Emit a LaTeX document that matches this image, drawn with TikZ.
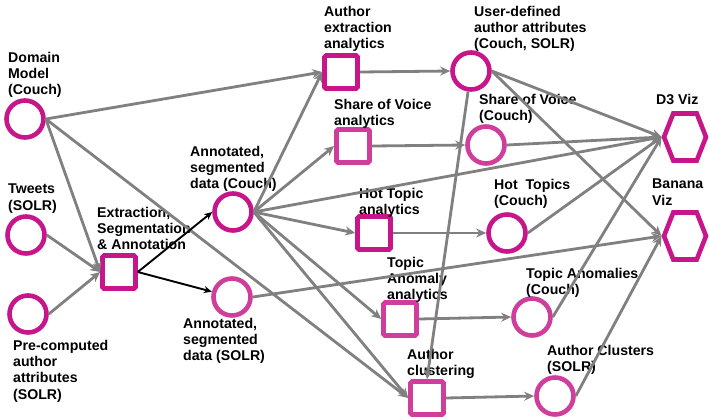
\documentclass[tikz,border=0pt]{standalone}
\usepackage{fontspec}
\setmainfont{Liberation Sans}
\usepackage{tikz}
\usetikzlibrary{arrows.meta, shapes.symbols}
\definecolor{vio}{RGB}{199,22,138}
\definecolor{violt}{RGB}{208,62,155}
\definecolor{flow}{RGB}{128,128,128}
\newcommand{\lbl}{\fontsize{14.2}{16.3}\selectfont\bfseries}
\tikzset{
  store/.style  = {circle, draw=vio, line width=4.6bp, minimum size=37bp, inner sep=0pt},
  lstore/.style = {store, draw=violt},
  proc/.style   = {rectangle, draw=vio, line width=4.6bp, minimum size=33bp,
                   rounded corners=1.5bp, inner sep=0pt},
  lproc/.style  = {proc, draw=violt},
  viz/.style    = {signal, signal to=east and west, signal pointer angle=137,
                   draw=vio, line width=4.6bp, minimum width=42bp, minimum height=47bp,
                   inner sep=0pt},
  sig/.style    = {-{Stealth[length=10bp, width=9bp]}, draw=flow, line width=2.8bp},
  bsig/.style   = {-{Stealth[length=8bp, width=7bp]}, draw=black, line width=1.9bp},
  lab/.style    = {font=\lbl, align=left, anchor=north west, inner sep=0pt},
}

\begin{document}
\begin{tikzpicture}[x=1bp, y=-1bp]
  \useasboundingbox (0,0) rectangle (710,418);
  % data stores and steps
  \node[store] (dm) at (25,119) {};
  \node[store] (tw) at (26,235) {};
  \node[store] (pre) at (28,314) {};
  \node[proc] (ext) at (119,272) {};
  \node[store] (ac) at (233,212) {};
  \node[lstore] (as) at (232,297) {};
  \node[proc] (ae) at (341,72) {};
  \node[lproc] (sva) at (353,146) {};
  \node[store] (ud) at (471,71) {};
  \node[lstore] (svc) at (486,145) {};
  \node[proc] (hta) at (374,233) {};
  \node[store] (htc) at (507,233) {};
  \node[lproc] (taa) at (400,319) {};
  \node[lstore] (tac) at (532,317) {};
  \node[lproc] (acl) at (427,398) {};
  \node[lstore] (acs) at (555,396) {};
  \node[viz] (d3) at (685,137) {};
  \node[viz] (ban) at (685,236) {};

  % labels
  \node[lab] (dm-t) at (8,52) {Domain\\Model\\(Couch)};
  \node[lab] (tw-t) at (8,184) {Tweets\\(SOLR)};
  \node[lab] (pre-t) at (13,340) {Pre-computed\\author\\attributes\\(SOLR)};
  \node[lab] (ext-t) at (97,207) {Extraction,\\Segmentation\\\& Annotation};
  \node[lab] (ac-t) at (190,146) {Annotated,\\segmented\\data (Couch)};
  \node[lab] (as-t) at (183,318) {Annotated,\\segmented\\data (SOLR)};
  \node[lab] (ae-t) at (324,6) {Author\\extraction\\analytics};
  \node[lab] (sva-t) at (334,99) {Share of Voice\\analytics};
  \node[lab] (ud-t) at (474,6) {User-defined\\author attributes\\(Couch, SOLR)};
  \node[lab] (svc-t) at (479,94) {Share of Voice\\(Couch)};
  \node[lab] (d3-t) at (656,94) {D3 Viz};
  \node[lab] (htc-t) at (494,179) {Hot\ \ Topics\\(Couch)};
  \node[lab] (ban-t) at (652,179) {Banana\\Viz};
  \node[lab] (hta-t) at (359,188) {Hot Topic\\analytics};
  \node[lab] (taa-t) at (387,257) {Topic\\Anomaly\\analytics};
  \node[lab] (tac-t) at (526,268) {Topic Anomalies\\(Couch)};
  \node[lab] (acl-t) at (407,349) {Author\\clustering};
  \node[lab] (acs-t) at (547,345) {Author Clusters\\(SOLR)};

  % flows
  \draw[sig] (dm.east) -- (ae.west);
  \draw[sig] (dm.east) -- (ext.west);
  \draw[sig] (dm.east) -- (acl.west);
  \draw[sig] (tw.east) -- (ext.west);
  \draw[sig] (pre.east) -- (ext.west);
  \draw[bsig] (ext.east) -- (ac.west);
  \draw[bsig] (ext.east) -- (as);
  \draw[sig] (ac.east) -- (ae.west);
  \draw[sig] (ac.east) -- (sva.west);
  \draw[sig] (ac.east) -- (hta.west);
  \draw[sig] (ac.east) -- (taa.west);
  \draw[sig] (ac.east) -- (acl.west);
  \draw[sig] (ac.east) -- (d3.west);
  \draw[sig] (as.east) -- (ban.west);
  \draw[sig] (ae.east) -- (ud.west);
  \draw[sig] (sva.east) -- (svc.west);
  \draw[sig] (hta.east) -- (htc.west);
  \draw[sig] (taa.east) -- (tac.west);
  \draw[sig] (acl.east) -- (acs.west);
  \draw[sig] (ud) -- (acl.north);
  \draw[sig] (ud.east) -- (d3.west);
  \draw[sig] (ud.east) -- (ban.west);
  \draw[sig] (svc.east) -- (d3.west);
  \draw[sig] (htc.east) -- (d3.west);
  \draw[sig] (tac.east) -- (d3.west);
  \draw[sig] (acs.east) -- (ban.west);
\end{tikzpicture}
\end{document}
